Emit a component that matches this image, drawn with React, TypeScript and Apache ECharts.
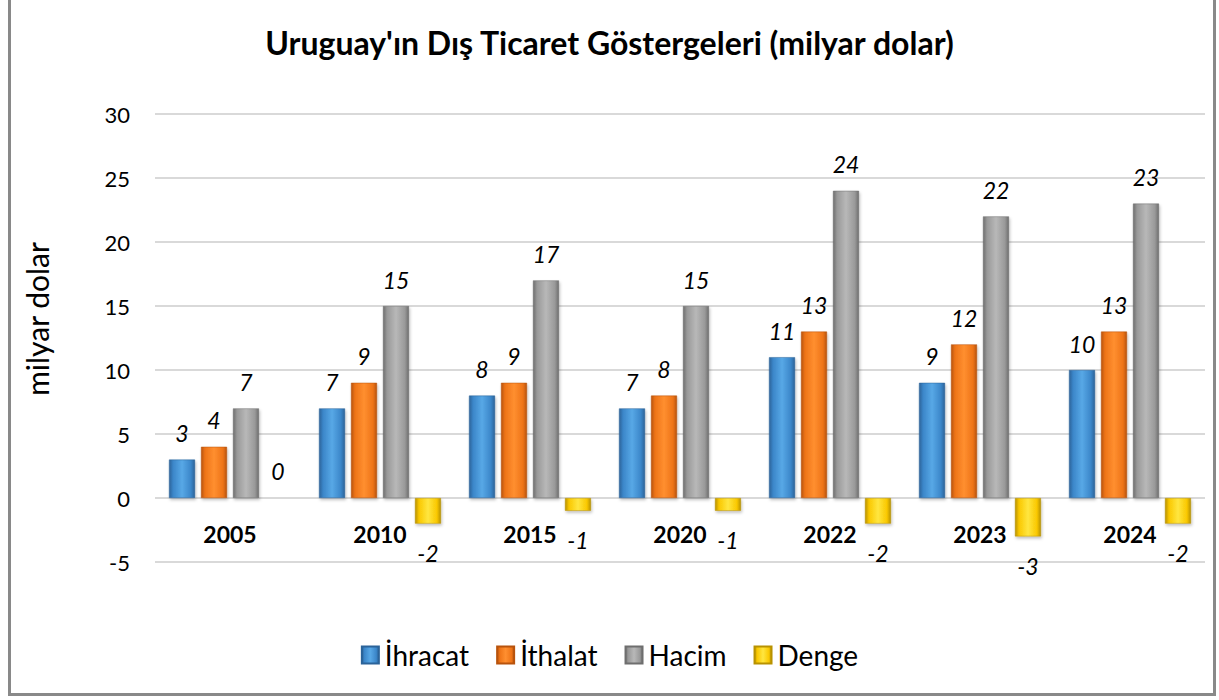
import React, { useEffect, useRef } from "react";
import * as echarts from "echarts";

const years = ["2005", "2010", "2015", "2020", "2022", "2023", "2024"];
const ihracat = [3, 7, 8, 7, 11, 9, 10];
const ithalat = [4, 9, 9, 8, 13, 12, 13];
const hacim = [7, 15, 17, 15, 24, 22, 23];
const denge = [0, -2, -1, -1, -2, -3, -2];
const seriesNames = ["İhracat", "İthalat", "Hacim", "Denge"];
const yTicks = { min: -5, max: 30, interval: 5 };
const yAxisName = "milyar dolar";

const palettes = [
  { light: "#58a8e6", base: "#3b86c9", dark: "#2b6399" },
  { light: "#ff8f30", base: "#ee7417", dark: "#b8530c" },
  { light: "#b8b8b8", base: "#999999", dark: "#6e6e6e" },
  { light: "#ffe640", base: "#fac800", dark: "#b89200" },
];

function grad(p: { light: string; base: string; dark: string }) {
  return new echarts.graphic.LinearGradient(0, 0, 1, 0, [
    { offset: 0, color: p.dark },
    { offset: 0.15, color: p.base },
    { offset: 0.5, color: p.light },
    { offset: 0.85, color: p.base },
    { offset: 1, color: p.dark },
  ]);
}

export default function App() {
  const ref = useRef<HTMLDivElement>(null);
  useEffect(() => {
    if (!ref.current) return;
    const chart = echarts.init(ref.current, null, { renderer: "svg" });
    const font = "Lato, 'Open Sans', sans-serif";
    const all = [ihracat, ithalat, hacim, denge];
    const series = all.map((arr, i) => ({
      name: seriesNames[i],
      type: "bar",
      barWidth: 26,
      barGap: "23%",
      itemStyle: {
        color: grad(palettes[i]),
        borderColor: palettes[i].dark,
        borderWidth: 0.5,
        shadowColor: "rgba(0,0,0,0.25)",
        shadowBlur: 3,
        shadowOffsetX: 1,
        shadowOffsetY: 2,
      },
      data: arr.map((v) => ({
        value: v,
        label: {
          show: true,
          position: v < 0 ? "bottom" : "top",
          distance: v < 0 ? 18 : 15,
          fontSize: 23,
          fontStyle: "italic",
          fontFamily: font,
          color: "#000",
        },
      })),
    }));
    chart.setOption({
      animation: false,
      title: {
        text: "Uruguay'ın Dış Ticaret Göstergeleri (milyar dolar)",
        left: "center",
        top: 21,
        textStyle: { fontSize: 32, fontWeight: "bold", fontFamily: font, color: "#000" },
      },
      legend: {
        bottom: 26,
        left: "center",
        itemWidth: 17,
        itemHeight: 17,
        itemGap: 27,
        icon: "rect",
        textStyle: { fontSize: 28, fontFamily: font, color: "#000", padding: [0, 0, 0, 1] },
        data: seriesNames,
      },
      graphic: [
        {
          type: "text",
          x: 37,
          y: 319,
          rotation: Math.PI / 2,
          style: {
            text: yAxisName,
            font: "30px Lato, 'Open Sans', sans-serif",
            fill: "#000",
            textAlign: "center",
            textVerticalAlign: "middle",
          },
        },
      ],
      grid: { left: 155, right: 14, top: 114, bottom: 138 },
      xAxis: {
        type: "category",
        data: years,
        offset: -64,
        axisLine: { show: false, onZero: false },
        axisTick: { show: false },
        axisLabel: {
          fontSize: 23,
          fontWeight: "bold",
          fontFamily: font,
          color: "#000",
          margin: 24,
        },
      },
      yAxis: {
        type: "value",
        min: yTicks.min,
        max: yTicks.max,
        interval: yTicks.interval,
        axisLine: { show: false },
        axisTick: { show: false },
        splitLine: { lineStyle: { color: "#d9d9d9", width: 2 } },
        axisLabel: { fontSize: 22, fontFamily: font, color: "#000", margin: 25 },
      },
      series,
    });
    return () => chart.dispose();
  }, []);
  return (
    <div>
      <div
        ref={ref}
        style={{ position: "absolute", left: 0, top: 0, width: 1219, height: 700 }}
      />
      <div
        style={{
          position: "absolute",
          left: 8,
          top: -4,
          width: 1208,
          height: 700,
          border: "3px solid #898989",
          boxSizing: "border-box",
          pointerEvents: "none",
        }}
      />
    </div>
  );
}
